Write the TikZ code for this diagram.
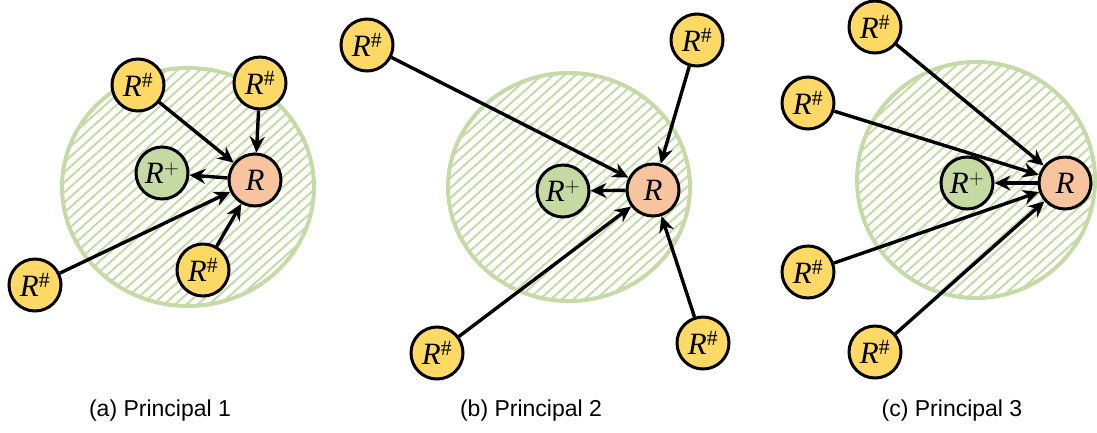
\documentclass[tikz,border=0pt]{standalone}
\usepackage{fontspec}
\setmainfont{Liberation Serif}
\setsansfont{Liberation Sans}
\usetikzlibrary{arrows.meta,patterns.meta}
\definecolor{hatchgreen}{HTML}{C6DAA8}
\definecolor{nodeyellow}{HTML}{FFD966}
\definecolor{nodeorange}{HTML}{F8C4A0}
\definecolor{nodegreen}{HTML}{C5D9A2}
\tikzstyle{point}=[circle, draw, line width=3pt, minimum size=52pt, inner sep=0pt, font=\fontsize{31}{31}\selectfont]
\tikzstyle{pointyellow}=[point, fill=nodeyellow]
\tikzstyle{pointorange}=[point, fill=nodeorange]
\tikzstyle{pointgreen}=[point, fill=nodegreen]
\tikzstyle{arrow}=[draw=black, line width=3.4pt, -{Stealth[length=16pt, width=15pt]}]
\tikzstyle{zone}=[draw=hatchgreen, line width=4pt, pattern={Lines[angle=42, distance=7.5pt, line width=2pt]}, pattern color=hatchgreen]
\tikzstyle{caption}=[font=\sffamily\fontsize{23}{23}\selectfont]
\newcommand{\rh}{\textit{R}\textsuperscript{\#}}

\begin{document}
\begin{tikzpicture}[x=1pt, y=-1pt]
		   \useasboundingbox (0, 0) rectangle (1097, 432);
		   % (a)
		   \begin{scope}
			   \path [zone] (188, 187) ellipse [x radius=126, y radius=119];
			   \node (a0) at (255, 180)[pointorange] {\textit{R}};
			   \node (a1) at (162, 173)[pointgreen] {\textit{R}$^{+}$};
			   \node (a2) at (138, 85)[pointyellow] {\rh};
			   \node (a3) at (260, 83)[pointyellow] {\rh};
			   \node (a4) at (35, 285)[pointyellow] {\rh};
			   \node (a5) at (203, 270)[pointyellow] {\rh};
			   \node (a6) at (160, 411)[caption] {(a) Principal 1};
		   \end{scope}
		   \begin{scope}
			   \path [arrow] (a0) edge (a1);
			   \path [arrow] (a2) edge (a0);
			   \path [arrow] (a3) edge (a0);
			   \path [arrow] (a4) edge (a0);
			   \path [arrow] (a5) edge (a0);
		   \end{scope}
		   % (b)
		   \begin{scope}
			   \path [zone] (569, 187) ellipse [x radius=121, y radius=114];
			   \node (b0) at (653, 190)[pointorange] {\textit{R}};
			   \node (b1) at (563, 191)[pointgreen] {\textit{R}$^{+}$};
			   \node (b2) at (367, 45)[pointyellow] {\rh};
			   \node (b3) at (697, 40)[pointyellow] {\rh};
			   \node (b4) at (437, 353)[pointyellow] {\rh};
			   \node (b5) at (703, 343)[pointyellow] {\rh};
			   \node (b6) at (531, 411)[caption] {(b) Principal 2};
		   \end{scope}
		   \begin{scope}
			   \path [arrow] (b0) edge (b1);
			   \path [arrow] (b2) edge (b0);
			   \path [arrow] (b3) edge (b0);
			   \path [arrow] (b4) edge (b0);
			   \path [arrow] (b5) edge (b0);
		   \end{scope}
		   % (c)
		   \begin{scope}
			   \path [zone] (976, 180) ellipse [x radius=119, y radius=118];
			   \node (c0) at (1065, 183)[pointorange] {\textit{R}};
			   \node (c1) at (967, 183)[pointgreen] {\textit{R}$^{+}$};
			   \node (c2) at (875, 27)[pointyellow] {\rh};
			   \node (c3) at (808, 103)[pointyellow] {\rh};
			   \node (c4) at (808, 272)[pointyellow] {\rh};
			   \node (c5) at (875, 352)[pointyellow] {\rh};
			   \node (c6) at (952, 411)[caption] {(c) Principal 3};
		   \end{scope}
		   \begin{scope}
			   \path [arrow] (c0) edge (c1);
			   \path [arrow] (c2) edge (c0);
			   \path [arrow] (c3) edge (c0);
			   \path [arrow] (c4) edge (c0);
			   \path [arrow] (c5) edge (c0);
		   \end{scope}
	   \end{tikzpicture}
\end{document}
